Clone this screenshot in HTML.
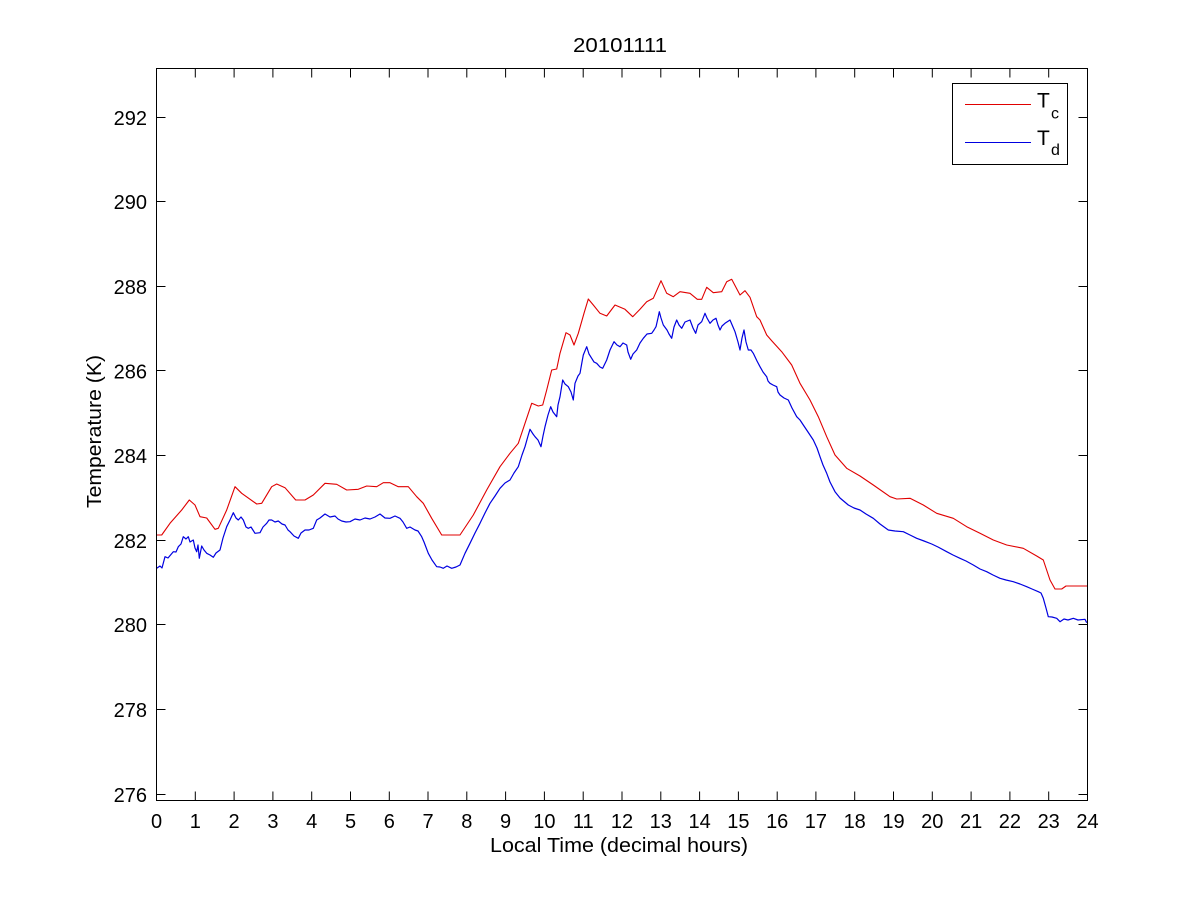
<!DOCTYPE html>
<html>
<head>
<meta charset="utf-8">
<style>
  html, body { margin: 0; padding: 0; background: #ffffff; }
  svg { display: block; }
  text { font-family: "Liberation Sans", Arial, sans-serif; fill: #000; }
</style>
</head>
<body>
<svg width="1201" height="900" viewBox="0 0 1201 900" xmlns="http://www.w3.org/2000/svg">
  <rect x="0" y="0" width="1201" height="900" fill="#ffffff"/>

  <!-- Title -->
  <text x="620" y="52" font-size="20" text-anchor="middle" textLength="94" lengthAdjust="spacingAndGlyphs">20101111</text>

  <!-- Series -->
  <polyline fill="none" stroke="#e00000" stroke-width="1.1" stroke-linejoin="round" points="
156.7,535 161.7,535 170,523.3 181.7,510 189.3,500 195,505 200,516.7 206.7,518 215,529.3 218.3,528.3 226.7,510 235,486.7 241.7,493.3 256.7,504 261.7,503.3 271.7,486.7 276.7,484 285,487.7 295.7,500 305,500 313.3,495 325,483.3 336.7,484.3 346.7,490 358.3,489.3 366.7,486 376.7,486.7 383.3,482.7 390,482.7 398.3,486.7 408.3,486.7 416.7,496.7 423.3,503.3 431.7,518.3 441.7,535 460,535 473.3,515 486.7,490 500,466.7 510,453.3 518.3,443.3 525,423.3 531.7,403.3 538.3,406 542.7,405 546.7,390 551.7,370 556.7,369 560,353.3 566,332.7 570,335 574,345 578.3,333.3 584,313.3 588.3,299 593.3,305 600,313.3 606.7,316 615,305 625,309.3 632.7,316.7 640,309.3 646.7,301.7 653.3,298.3 661,280.7 666.7,293.3 673.3,296.7 680,291.7 690,293.3 697.3,299.3 701.7,299.3 706.7,287.3 713.3,292.7 721.7,291.7 726.7,281.7 731.7,279.3 740,295 745,290.7 750,297.3 756.7,316.7 760,320 766.7,335 771.7,340.7 781.7,351.7 791.7,365 800,383.3 810,400 818.3,416.7 826.7,436.7 835,455 846.7,468.3 860,476 873.3,485 890,496.7 896.7,499 910,498.3 923.3,505 936.7,513.3 953.3,518.3 966.7,526.7 980,533.3 993.3,540 1006.7,545 1023.3,548.3 1036.7,556 1043.3,560 1050,580 1055,589 1061.7,589 1066,586 1087,586"/>

  <polyline fill="none" stroke="#0000e0" stroke-width="1.2" stroke-linejoin="round" points="
156.7,568.3 160,566 162,568 165,556.7 168,558 173.3,551.7 176,552 178.3,546.7 181,544 183.3,536.7 186,539 188.3,536.7 190,542 193.3,540 195,548 196.7,551.7 198,545 199.3,558.3 201.7,546 204,550 206.7,553.3 210,555 213.3,557.3 216,553 220,550 223,538 226.7,526.7 230,520 233.3,512.7 236,518 238.3,520 241,517 243.3,520 246,527 248.3,528.3 251,527 255,533.3 260,532.7 263,527 266.7,523.3 269,520 271.7,520 275,522 278.3,521 282,524 285,525 288,530 290,531.7 294,536 298.3,538.3 301,533 305,530 309,530 313.3,528.3 316.7,520 320,518 325,514 330,517 335,516 338,519 341.7,521 346,522 350,521.7 355,519 360,520 365,518 370,519 375,517 380,514 385,518 390,518.3 395,516 400,518.3 403,522 406.7,528.3 410,527 415,530 418,531 421.7,536.7 424,542 428.3,553.3 432,560 436.7,566.7 440,567 443.3,568.3 447,566 451.7,568.3 456,567 460,565 465,553.3 470,543.3 475,533 480,523.3 485,513 490,503.3 495,496 500,488.3 505,483 510,480 514,473 518.3,466.7 522,455 525,446.7 528,436 530,429.3 533,434 535,436.7 538,440 541,446.7 543,436 545,426.7 548,415 550.7,406.7 553,412 556.7,416.7 558,405 560,396.7 562.7,380 565,384 568.3,386.7 571,392 573.3,400 575,383.3 578,376 580,373.3 582,362 583.3,355 586.7,346.7 589,354 591.7,358.3 594,362 596.7,363.3 600,367 602.7,368.3 606.7,360 610,350 614,341.7 617,345 620,346.7 623,343 626.7,345 628,352 630.7,359.3 633,354 636.7,350 640,343 643.3,338.3 647,334 651.7,333.3 654,330 656,326.7 658,318 659.3,311.7 661,318 663.3,325 667,330 669,334 671.7,338.3 674,327 676.7,320 679,325 681.7,328.3 685,322 690,320 693,328 695.7,333.3 698,325 701.7,321.7 705,313.3 707,318 710,323.3 713,320 716,318.3 718,325 720,330 722,326 725,323.3 730,320 733,327 735,331.7 738,342 740,350 742,338 744,330 746,342 748.3,350 751,350 753.3,353.3 757,361 760,366.7 763,372 766.7,376.7 768,381 770,383.3 773,385 776.7,386.7 778,392 780,395 784,398 788.3,400 792,408 796.7,416.7 800,420 803.3,425 808,432 813.3,440 817,448 820,456.7 823,465 826.7,473.3 830,482 835,491.7 840,498 848.3,505 854,508 860,510 866,514 873.3,518.3 880,524 888.3,530 895,531 903.3,531.7 910,535 916.7,538.3 924,541 931.7,544 938,547 946.7,551.7 953,555 960,558.3 966,561 973.3,565 980,569 986.7,571.7 993,575 1000,578.3 1006,580 1013.3,581.7 1020,584 1026.7,586.7 1032,589 1038.3,591.7 1041,593 1043.3,598.3 1046,608 1048.3,616.7 1052,617 1056.7,618.3 1060,621.7 1064,619 1068,620 1073.3,618.3 1078,620 1085,619.3 1086.7,622.7"/>

  <!-- Axes box -->
  <rect x="156.5" y="68.5" width="931" height="732" fill="none" stroke="#000" stroke-width="1"/>

  <!-- Y ticks -->
  <g stroke="#000" stroke-width="1">
    <line x1="156.5" y1="794.5" x2="165.5" y2="794.5"/><line x1="1087.5" y1="794.5" x2="1078.5" y2="794.5"/>
    <line x1="156.5" y1="709.5" x2="165.5" y2="709.5"/><line x1="1087.5" y1="709.5" x2="1078.5" y2="709.5"/>
    <line x1="156.5" y1="624.5" x2="165.5" y2="624.5"/><line x1="1087.5" y1="624.5" x2="1078.5" y2="624.5"/>
    <line x1="156.5" y1="540.5" x2="165.5" y2="540.5"/><line x1="1087.5" y1="540.5" x2="1078.5" y2="540.5"/>
    <line x1="156.5" y1="455.5" x2="165.5" y2="455.5"/><line x1="1087.5" y1="455.5" x2="1078.5" y2="455.5"/>
    <line x1="156.5" y1="370.5" x2="165.5" y2="370.5"/><line x1="1087.5" y1="370.5" x2="1078.5" y2="370.5"/>
    <line x1="156.5" y1="286.5" x2="165.5" y2="286.5"/><line x1="1087.5" y1="286.5" x2="1078.5" y2="286.5"/>
    <line x1="156.5" y1="201.5" x2="165.5" y2="201.5"/><line x1="1087.5" y1="201.5" x2="1078.5" y2="201.5"/>
    <line x1="156.5" y1="117.5" x2="165.5" y2="117.5"/><line x1="1087.5" y1="117.5" x2="1078.5" y2="117.5"/>
  </g>

  <!-- Y tick labels -->
  <g font-size="20" text-anchor="end">
    <text x="147" y="802">276</text>
    <text x="147" y="717">278</text>
    <text x="147" y="632">280</text>
    <text x="147" y="548">282</text>
    <text x="147" y="463">284</text>
    <text x="147" y="378.5">286</text>
    <text x="147" y="294">288</text>
    <text x="147" y="209">290</text>
    <text x="147" y="125">292</text>
  </g>

  <!-- X ticks -->
  <g stroke="#000" stroke-width="1">
    <line x1="195.3" y1="800.5" x2="195.3" y2="791.5"/><line x1="195.3" y1="68.5" x2="195.3" y2="77.5"/>
    <line x1="234.1" y1="800.5" x2="234.1" y2="791.5"/><line x1="234.1" y1="68.5" x2="234.1" y2="77.5"/>
    <line x1="272.9" y1="800.5" x2="272.9" y2="791.5"/><line x1="272.9" y1="68.5" x2="272.9" y2="77.5"/>
    <line x1="311.7" y1="800.5" x2="311.7" y2="791.5"/><line x1="311.7" y1="68.5" x2="311.7" y2="77.5"/>
    <line x1="350.5" y1="800.5" x2="350.5" y2="791.5"/><line x1="350.5" y1="68.5" x2="350.5" y2="77.5"/>
    <line x1="389.3" y1="800.5" x2="389.3" y2="791.5"/><line x1="389.3" y1="68.5" x2="389.3" y2="77.5"/>
    <line x1="428.0" y1="800.5" x2="428.0" y2="791.5"/><line x1="428.0" y1="68.5" x2="428.0" y2="77.5"/>
    <line x1="466.8" y1="800.5" x2="466.8" y2="791.5"/><line x1="466.8" y1="68.5" x2="466.8" y2="77.5"/>
    <line x1="505.6" y1="800.5" x2="505.6" y2="791.5"/><line x1="505.6" y1="68.5" x2="505.6" y2="77.5"/>
    <line x1="544.4" y1="800.5" x2="544.4" y2="791.5"/><line x1="544.4" y1="68.5" x2="544.4" y2="77.5"/>
    <line x1="583.2" y1="800.5" x2="583.2" y2="791.5"/><line x1="583.2" y1="68.5" x2="583.2" y2="77.5"/>
    <line x1="622.0" y1="800.5" x2="622.0" y2="791.5"/><line x1="622.0" y1="68.5" x2="622.0" y2="77.5"/>
    <line x1="660.8" y1="800.5" x2="660.8" y2="791.5"/><line x1="660.8" y1="68.5" x2="660.8" y2="77.5"/>
    <line x1="699.6" y1="800.5" x2="699.6" y2="791.5"/><line x1="699.6" y1="68.5" x2="699.6" y2="77.5"/>
    <line x1="738.4" y1="800.5" x2="738.4" y2="791.5"/><line x1="738.4" y1="68.5" x2="738.4" y2="77.5"/>
    <line x1="777.2" y1="800.5" x2="777.2" y2="791.5"/><line x1="777.2" y1="68.5" x2="777.2" y2="77.5"/>
    <line x1="815.9" y1="800.5" x2="815.9" y2="791.5"/><line x1="815.9" y1="68.5" x2="815.9" y2="77.5"/>
    <line x1="854.7" y1="800.5" x2="854.7" y2="791.5"/><line x1="854.7" y1="68.5" x2="854.7" y2="77.5"/>
    <line x1="893.5" y1="800.5" x2="893.5" y2="791.5"/><line x1="893.5" y1="68.5" x2="893.5" y2="77.5"/>
    <line x1="932.3" y1="800.5" x2="932.3" y2="791.5"/><line x1="932.3" y1="68.5" x2="932.3" y2="77.5"/>
    <line x1="971.1" y1="800.5" x2="971.1" y2="791.5"/><line x1="971.1" y1="68.5" x2="971.1" y2="77.5"/>
    <line x1="1009.9" y1="800.5" x2="1009.9" y2="791.5"/><line x1="1009.9" y1="68.5" x2="1009.9" y2="77.5"/>
    <line x1="1048.7" y1="800.5" x2="1048.7" y2="791.5"/><line x1="1048.7" y1="68.5" x2="1048.7" y2="77.5"/>
  </g>

  <!-- X tick labels -->
  <g font-size="20" text-anchor="middle">
    <text x="156.5" y="828">0</text>
    <text x="195.3" y="828">1</text>
    <text x="234.1" y="828">2</text>
    <text x="272.9" y="828">3</text>
    <text x="311.7" y="828">4</text>
    <text x="350.5" y="828">5</text>
    <text x="389.3" y="828">6</text>
    <text x="428.0" y="828">7</text>
    <text x="466.8" y="828">8</text>
    <text x="505.6" y="828">9</text>
    <text x="544.4" y="828">10</text>
    <text x="583.2" y="828">11</text>
    <text x="622.0" y="828">12</text>
    <text x="660.8" y="828">13</text>
    <text x="699.6" y="828">14</text>
    <text x="738.4" y="828">15</text>
    <text x="777.2" y="828">16</text>
    <text x="815.9" y="828">17</text>
    <text x="854.7" y="828">18</text>
    <text x="893.5" y="828">19</text>
    <text x="932.3" y="828">20</text>
    <text x="971.1" y="828">21</text>
    <text x="1009.9" y="828">22</text>
    <text x="1048.7" y="828">23</text>
    <text x="1087.5" y="828">24</text>
  </g>

  <!-- Axis labels -->
  <text x="619" y="852" font-size="20" text-anchor="middle" textLength="258" lengthAdjust="spacingAndGlyphs">Local Time (decimal hours)</text>
  <text transform="translate(101,431.5) rotate(-90)" x="0" y="0" font-size="20" text-anchor="middle" textLength="153" lengthAdjust="spacingAndGlyphs">Temperature (K)</text>

  <!-- Legend -->
  <rect x="952.5" y="83.5" width="115" height="81" fill="#ffffff" stroke="#000" stroke-width="1"/>
  <line x1="965" y1="104.5" x2="1031" y2="104.5" stroke="#e00000" stroke-width="1"/>
  <line x1="965" y1="142.5" x2="1031" y2="142.5" stroke="#0000e0" stroke-width="1"/>
  <text x="1037" y="107.7" font-size="21">T</text>
  <text x="1051" y="118.5" font-size="16">c</text>
  <text x="1037" y="145" font-size="21">T</text>
  <text x="1051" y="155" font-size="16">d</text>
</svg>
</body>
</html>
